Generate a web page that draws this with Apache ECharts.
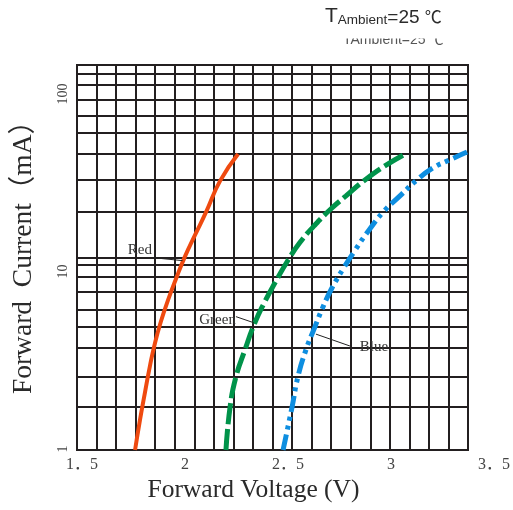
<!DOCTYPE html>
<html><head><meta charset="utf-8">
<script src="https://cdn.jsdelivr.net/npm/echarts@6/dist/echarts.min.js"></script>
<style>html,body{margin:0;padding:0;background:#fff}#c{width:513px;height:510px}</style>
</head><body><div id="c"></div>
<script>
// ---- data (forward voltage V, forward current mA) ----
const redVoltage   = [1.797, 1.822, 1.848, 1.873, 1.899, 1.930, 1.966, 2.006, 2.052, 2.104, 2.160, 2.232, 2.324];
const redCurrent   = [1.00, 1.43, 2.00, 2.73, 3.60, 4.68, 6.02, 7.73, 10.1, 13.1, 17.2, 25.0, 34.5];
const greenVoltage = [2.262, 2.283, 2.313, 2.359, 2.405, 2.457, 2.518, 2.580, 2.641, 2.713, 2.794, 2.876, 2.973, 3.081, 3.188];
const greenCurrent = [1.00, 1.67, 2.40, 3.31, 4.46, 5.80, 7.55, 9.71, 12.0, 14.6, 17.7, 20.9, 25.3, 30.2, 34.9];
const blueVoltage  = [2.554, 2.600, 2.630, 2.671, 2.717, 2.758, 2.804, 2.861, 2.922, 2.994, 3.070, 3.152, 3.239, 3.321, 3.393, 3.495];
const blueCurrent  = [1.00, 1.67, 2.40, 3.31, 4.36, 5.53, 6.94, 8.72, 10.9, 13.9, 17.4, 20.9, 25.3, 29.2, 31.7, 35.3];
const seriesNames  = ['Red', 'Green', 'Blue'];
// horizontal grid lines of the datasheet grid (mA)
const currentGridLines = [1.68, 2.40, 3.38, 4.37, 5.38, 6.64, 7.95, 9.14, 10, 17.2, 25.3, 34.5, 44.7, 54.5, 66.3, 79.4, 90.6];
// tick labels
const xTickValues = [1.5, 2, 2.5, 3, 3.5];
const xTickLabels = ['1．5', '2', '2．5', '3', '3．5'];
const yTickLabels = ['1', '10', '100'];
// annotation anchors (data units)
const labelAnchors = { Red: [1.822, 10.9], Green: [2.219, 4.73], Blue: [3.019, 3.41] };
const leaderLines  = { Red: [[1.889, 9.98], [2.040, 9.63]], Green: [[2.313, 4.93], [2.405, 4.58]], Blue: [[2.722, 4.0], [2.896, 3.47]] };

const serif = "'Liberation Serif','Noto Sans CJK SC',serif";
const sans = "'Liberation Sans','Noto Sans CJK SC',sans-serif";
const gridColor = '#231f20';

function pairs(xs, ys) { return xs.map((x, i) => [x, ys[i]]); }

const styles = {
  Red:   { color: '#ef4a10', width: 4, type: 'solid' },
  Green: { color: '#00934a', width: 5, type: [21, 5] },
  Blue:  { color: '#0e8ee0', width: 5, type: [16, 5, 4, 5, 4, 5] }
};
const dataMap = {
  Red: pairs(redVoltage, redCurrent),
  Green: pairs(greenVoltage, greenCurrent),
  Blue: pairs(blueVoltage, blueCurrent)
};

const curveSeries = seriesNames.map(name => ({
  name, type: 'line', xAxisIndex: 0, yAxisIndex: 0, z: 3,
  data: dataMap[name], smooth: 0.5, symbol: 'none', silent: true,
  lineStyle: Object.assign({ cap: 'butt' }, styles[name]),
  markLine: {
    silent: true, z: 4, symbol: ['none', 'none'], label: { show: false },
    lineStyle: { color: '#222', width: 1, type: 'solid' },
    data: [[{ coord: leaderLines[name][0] }, { coord: leaderLines[name][1] }]]
  },
  markPoint: {
    silent: true, z: 4, symbol: 'circle', symbolSize: 1,
    itemStyle: { color: 'rgba(0,0,0,0)' },
    label: { show: true, position: 'inside', formatter: name, color: '#333', fontFamily: serif, fontSize: 15 },
    data: [{ coord: labelAnchors[name] }]
  }
}));

const option = {
  animation: false,
  backgroundColor: '#fff',
  grid: [
    { left: 77, right: 45, top: 65, bottom: 60, show: true, borderColor: gridColor, borderWidth: 2, backgroundColor: 'transparent' },
    { left: 82, right: 18, top: 94, bottom: 61 }
  ],
  xAxis: [
    { gridIndex: 0, type: 'value', min: 1.5, max: 3.5, interval: 0.1,
      axisLine: { show: false }, axisTick: { show: false }, axisLabel: { show: false },
      splitLine: { show: true, lineStyle: { color: gridColor, width: 2 } },
      name: 'Forward Voltage (V)', nameLocation: 'middle', nameGap: 28,
      nameTextStyle: { fontFamily: serif, fontSize: 25.5, color: '#2a2a2a', padding: [0, 38, 0, 0] } },
    { gridIndex: 1, type: 'value', min: 1.5, max: 3.5, interval: 0.5,
      axisLine: { show: false }, axisTick: { show: false }, splitLine: { show: false },
      axisLabel: { margin: 8, fontSize: 16, color: '#444', fontFamily: serif,
        formatter: v => { const i = xTickValues.findIndex(t => Math.abs(t - v) < 1e-6); return i >= 0 ? xTickLabels[i] : ''; } } }
  ],
  yAxis: [
    { gridIndex: 0, type: 'log', logBase: 10, min: 1, max: 100,
      axisLine: { show: false }, axisTick: { show: false }, axisLabel: { show: false }, splitLine: { show: false },
      name: 'Forward  Current（mA）', nameLocation: 'middle', nameGap: 39, nameRotate: 90,
      nameTextStyle: { fontFamily: serif, fontSize: 27.5, color: '#2a2a2a', padding: [0, 0, 0, 14] } },
    { gridIndex: 1, type: 'log', logBase: 10, min: 1, max: 100,
      axisLine: { show: false }, axisTick: { show: false }, splitLine: { show: false },
      axisLabel: { rotate: 90, margin: 12, fontSize: 14, color: '#444', fontFamily: serif,
        formatter: v => { const i = Math.round(Math.log10(v)); return yTickLabels[i] !== undefined ? yTickLabels[i] : ''; } } }
  ],
  graphic: [
    { type: 'text', left: 325, top: 6, z: 10,
      style: { text: '{t|T}{a|Ambient}{e|=25 }{c|℃}', fill: '#2b2b2b',
        rich: {
          t: { fontSize: 21, fontFamily: sans, fill: '#2b2b2b', verticalAlign: 'bottom' },
          a: { fontSize: 13.5, fontFamily: sans, fill: '#2b2b2b', verticalAlign: 'bottom' },
          e: { fontSize: 19, fontFamily: sans, fill: '#2b2b2b', verticalAlign: 'bottom' },
          c: { fontSize: 17, fontFamily: sans, fill: '#2b2b2b', verticalAlign: 'bottom' }
        } } },
    { type: 'text', left: 343, top: 33.5, z: 10,
      style: { text: 'TAmbient=25 ℃', font: "14px 'Liberation Sans','Noto Sans CJK SC',sans-serif", fill: '#555' } },
    { type: 'rect', z: 11, shape: { x: 336, y: 28, width: 120, height: 10.5 }, style: { fill: '#fff' } }
  ],
  series: [
    { type: 'line', xAxisIndex: 0, yAxisIndex: 0, z: 1, data: [], silent: true,
      markLine: { silent: true, z: 1, symbol: ['none', 'none'], label: { show: false },
        lineStyle: { color: gridColor, width: 2, type: 'solid' },
        data: currentGridLines.map(v => ({ yAxis: v })) } }
  ].concat(curveSeries)
};

const chart = echarts.init(document.getElementById('c'), null, { renderer: 'canvas' });
chart.setOption(option);
</script>
</body></html>
